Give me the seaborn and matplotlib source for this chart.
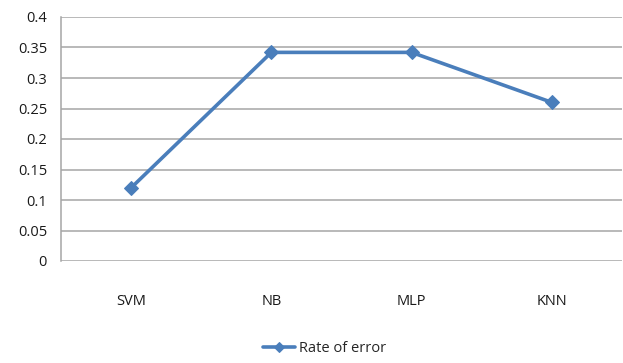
import matplotlib
matplotlib.use("Agg")
import matplotlib.pyplot as plt
import seaborn as sns
import pandas as pd

classifiers = ["SVM", "NB", "MLP", "KNN"]
error_rate = [0.12, 0.342, 0.342, 0.26]
series_name = "Rate of error"

sns.set_theme(style="white")
plt.rcParams["font.family"] = ["Open Sans", "DejaVu Sans"]

df = pd.DataFrame({"Classifier": classifiers, "Error": error_rate})
df["pos"] = range(len(classifiers))

fig = plt.figure(figsize=(6.23, 3.63), dpi=100)
ax = fig.add_axes([61 / 623, 1 - 261 / 363, 561 / 623, 244 / 363])

blue = "#4A7EBB"
sns.lineplot(data=df, x="pos", y="Error", ax=ax, color=blue, linewidth=2.6,
             marker="D", markersize=7, markeredgecolor=blue, label=series_name)

ax.set_xlim(-0.5, len(classifiers) - 0.5)
ax.set_ylim(0, 0.4)
ax.set_yticks([i * 0.05 for i in range(9)])
ax.set_yticklabels(["0", "0.05", "0.1", "0.15", "0.2", "0.25", "0.3", "0.35", "0.4"])
ax.set_xticks(range(len(classifiers)))
ax.set_xticklabels(classifiers)
ax.set_xlabel("")
ax.set_ylabel("")
ax.tick_params(axis="both", labelsize=10.5, colors="#1A1A1A")
ax.tick_params(axis="x", length=0, pad=24)
ax.tick_params(axis="y", length=4, width=1.1, color="#A6A6A6", pad=6)

ax.yaxis.grid(True, color="#A6A6A6", linewidth=1.1)
ax.set_axisbelow(True)
for side in ["top", "right", "bottom"]:
    ax.spines[side].set_visible(False)
ax.spines["left"].set_color("#A6A6A6")
ax.spines["left"].set_linewidth(1.1)

leg = ax.legend(loc="center", bbox_to_anchor=(0.47, -0.36), frameon=False,
                fontsize=10.5, handlelength=2.2, handletextpad=0.3, markerscale=0.8)

fig.savefig("out.png", dpi=100)
